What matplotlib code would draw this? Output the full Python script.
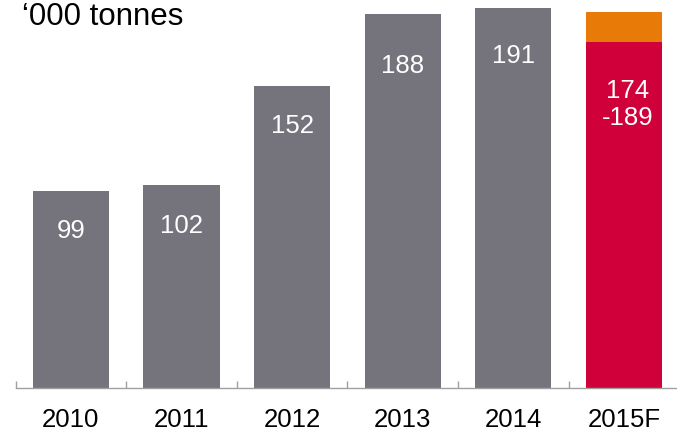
import matplotlib
matplotlib.use('Agg')
import matplotlib.pyplot as plt
import numpy as np
matplotlib.rcParams.update({'font.family': ['Liberation Sans', 'DejaVu Sans']})

years = ['2010', '2011', '2012', '2013', '2014', '2015F']
actual = [99, 102, 152, 188, 191]
forecast_low = 174
forecast_high = 189

grey = '#75747c'
red = '#d0003a'
orange = '#e87b07'
label_drop = [39, 40, 39, 51, 47]  # px below bar top

fig = plt.figure(figsize=(6.77, 4.31), dpi=100)
ax = fig.add_axes([15.5 / 677, 42 / 431, 661.5 / 677, 389 / 431])

x = np.arange(len(years))
w = 0.69
ax.bar(x[:5], actual, width=w, color=grey)
ax.bar(x[5], forecast_low, width=w, color=red)
ax.bar(x[5], forecast_high - forecast_low, bottom=forecast_low, width=w, color=orange)

for xi, v, d in zip(x[:5], actual, label_drop):
    ax.annotate(str(v), (xi, v), xytext=(0, -d * 0.72), textcoords='offset points',
                ha='center', va='center', color='white', fontsize=18.5)
ax.annotate(f'{forecast_low}\n-{forecast_high}', (x[5] + 0.03, forecast_low),
            xytext=(0, -62 * 0.72), textcoords='offset points',
            ha='center', va='center', color='white', fontsize=18.5,
            multialignment='center', linespacing=1.15)

ax.set_xlim(-0.5, 5.48)
ax.set_ylim(0, 195.5)
for s in ['top', 'right', 'left']:
    ax.spines[s].set_visible(False)
ax.spines['bottom'].set_color('#a0a0a0')
ax.spines['bottom'].set_linewidth(1)
ax.set_yticks([])
ax.set_xticks(x)
ax.set_xticklabels(years, fontsize=18.5)
ax.tick_params(axis='x', which='major', length=0, pad=14)
ax.set_xticks(np.arange(-0.5, 5, 1), minor=True)
ax.tick_params(axis='x', which='minor', direction='in', length=5, width=1, color='#a0a0a0')

fig.text(22 / 677, 1 - 2 / 431, '\u2018000 tonnes', fontsize=22.5, ha='left', va='top')

fig.savefig('out.png', dpi=100)
